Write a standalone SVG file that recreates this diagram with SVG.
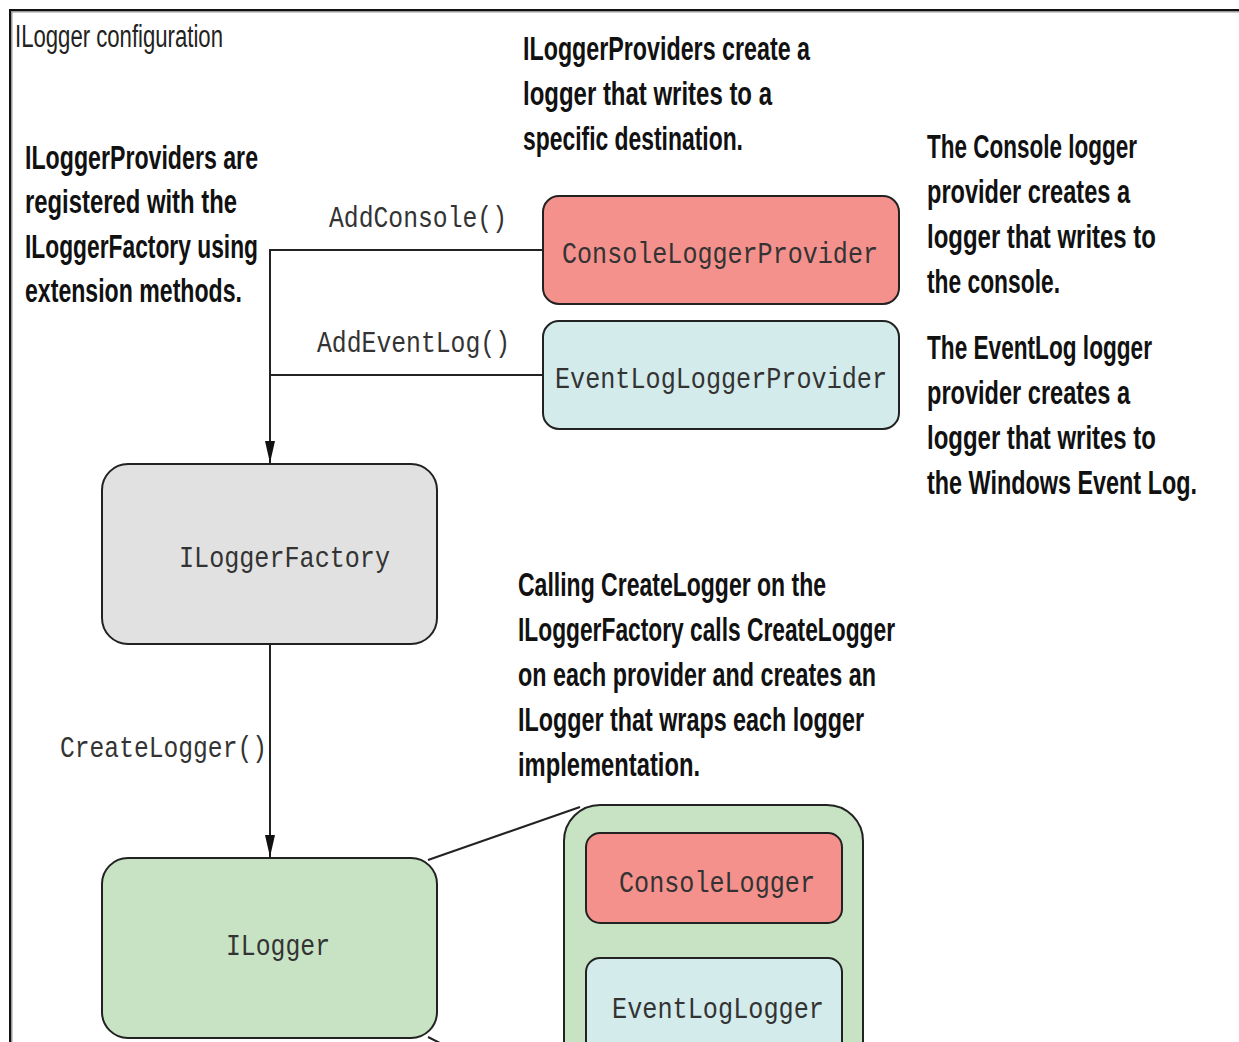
<svg xmlns="http://www.w3.org/2000/svg" width="1239" height="1042" viewBox="0 0 1239 1042">
<defs>
<style>
.box{stroke:#222;stroke-width:2}
.red{fill:#f4918c}
.cyan{fill:#d3ebeb}
.gray{fill:#e0e1e0}
.green{fill:#c8e3c3}
.mono{font-family:"Liberation Mono","DejaVu Sans Mono",monospace;font-size:29px;fill:#333}
.note{font-family:"Liberation Sans",Arial,sans-serif;font-weight:bold;font-size:34px;fill:#111}
.title{font-family:"Liberation Sans",Arial,sans-serif;font-size:31px;fill:#222}
.conn{stroke:#222;stroke-width:2;fill:none}
</style>
<marker id="arrd" markerUnits="userSpaceOnUse" markerWidth="22" markerHeight="10" viewBox="0 0 22 10" refX="22" refY="5" orient="auto">
<path d="M0,0 L22,5 L0,10 Z" fill="#111"/>
</marker>
</defs>
<rect width="1239" height="1042" fill="#fff"/>
<g id="frame">
<path d="M11,1042 V11 H1239" fill="none" stroke="#999" stroke-width="3"/>
<path d="M10,1042 V10 H1239" fill="none" stroke="#111" stroke-width="2"/>
<text class="title" x="15" y="47" textLength="208" lengthAdjust="spacingAndGlyphs">ILogger configuration</text>
</g>
<g id="connectors">
<path class="conn" d="M543,250 H270 V463" marker-end="url(#arrd)"/>
<path class="conn" d="M543,375 H270"/>
<path class="conn" d="M270,644 V857" marker-end="url(#arrd)"/>
<path class="conn" d="M428,860 L580,807"/>
<path class="conn" d="M428,1037 L446,1046"/>
<text class="mono" x="329" y="227" textLength="178" lengthAdjust="spacingAndGlyphs">AddConsole()</text>
<text class="mono" x="317" y="352" textLength="193" lengthAdjust="spacingAndGlyphs">AddEventLog()</text>
<text class="mono" x="60" y="757" textLength="207" lengthAdjust="spacingAndGlyphs">CreateLogger()</text>
</g>
<g id="node-console-provider">
<rect class="box red" x="543" y="196" width="356" height="108" rx="16"/>
<text class="mono" x="562" y="263" textLength="316" lengthAdjust="spacingAndGlyphs">ConsoleLoggerProvider</text>
</g>
<g id="node-eventlog-provider">
<rect class="box cyan" x="543" y="321" width="356" height="108" rx="16"/>
<text class="mono" x="555" y="388" textLength="332" lengthAdjust="spacingAndGlyphs">EventLogLoggerProvider</text>
</g>
<g id="node-factory">
<rect class="box gray" x="102" y="464" width="335" height="180" rx="26"/>
<text class="mono" x="179" y="567" textLength="211" lengthAdjust="spacingAndGlyphs">ILoggerFactory</text>
</g>
<g id="node-ilogger">
<rect class="box green" x="102" y="858" width="335" height="180" rx="26"/>
<text class="mono" x="226" y="955" textLength="104" lengthAdjust="spacingAndGlyphs">ILogger</text>
</g>
<g id="node-container">
<rect class="box green" x="564" y="805" width="299" height="320" rx="36"/>
</g>
<g id="node-console-logger">
<rect class="box red" x="586" y="833" width="256" height="90" rx="14"/>
<text class="mono" x="619" y="892" textLength="196" lengthAdjust="spacingAndGlyphs">ConsoleLogger</text>
</g>
<g id="node-eventlog-logger">
<rect class="box cyan" x="586" y="958" width="256" height="110" rx="14"/>
<text class="mono" x="612" y="1018" textLength="212" lengthAdjust="spacingAndGlyphs">EventLogLogger</text>
</g>
<g id="notes">
<g transform="translate(25,0) scale(0.75,1)">
<text class="note" x="0" y="169" textLength="310.7" lengthAdjust="spacingAndGlyphs">ILoggerProviders are</text>
<text class="note" x="0" y="213" textLength="282.7" lengthAdjust="spacingAndGlyphs">registered with the</text>
<text class="note" x="0" y="258" textLength="310.7" lengthAdjust="spacingAndGlyphs">ILoggerFactory using</text>
<text class="note" x="0" y="302" textLength="289.3" lengthAdjust="spacingAndGlyphs">extension methods.</text>
</g>
<g transform="translate(523,0) scale(0.75,1)">
<text class="note" x="0" y="60" textLength="382.7" lengthAdjust="spacingAndGlyphs">ILoggerProviders create a</text>
<text class="note" x="0" y="105" textLength="332" lengthAdjust="spacingAndGlyphs">logger that writes to a</text>
<text class="note" x="0" y="150" textLength="293.3" lengthAdjust="spacingAndGlyphs">specific destination.</text>
</g>
<g transform="translate(927,0) scale(0.75,1)">
<text class="note" x="0" y="158" textLength="280" lengthAdjust="spacingAndGlyphs">The Console logger</text>
<text class="note" x="0" y="203" textLength="270.7" lengthAdjust="spacingAndGlyphs">provider creates a</text>
<text class="note" x="0" y="248" textLength="305.3" lengthAdjust="spacingAndGlyphs">logger that writes to</text>
<text class="note" x="0" y="293" textLength="177.3" lengthAdjust="spacingAndGlyphs">the console.</text>
<text class="note" x="0" y="359" textLength="300" lengthAdjust="spacingAndGlyphs">The EventLog logger</text>
<text class="note" x="0" y="404" textLength="270.7" lengthAdjust="spacingAndGlyphs">provider creates a</text>
<text class="note" x="0" y="449" textLength="305.3" lengthAdjust="spacingAndGlyphs">logger that writes to</text>
<text class="note" x="0" y="494" textLength="360" lengthAdjust="spacingAndGlyphs">the Windows Event Log.</text>
</g>
<g transform="translate(518,0) scale(0.75,1)">
<text class="note" x="0" y="596" textLength="410.7" lengthAdjust="spacingAndGlyphs">Calling CreateLogger on the</text>
<text class="note" x="0" y="641" textLength="502.7" lengthAdjust="spacingAndGlyphs">ILoggerFactory calls CreateLogger</text>
<text class="note" x="0" y="686" textLength="477.3" lengthAdjust="spacingAndGlyphs">on each provider and creates an</text>
<text class="note" x="0" y="731" textLength="461.3" lengthAdjust="spacingAndGlyphs">ILogger that wraps each logger</text>
<text class="note" x="0" y="776" textLength="242.7" lengthAdjust="spacingAndGlyphs">implementation.</text>
</g>
</g>
</svg>
